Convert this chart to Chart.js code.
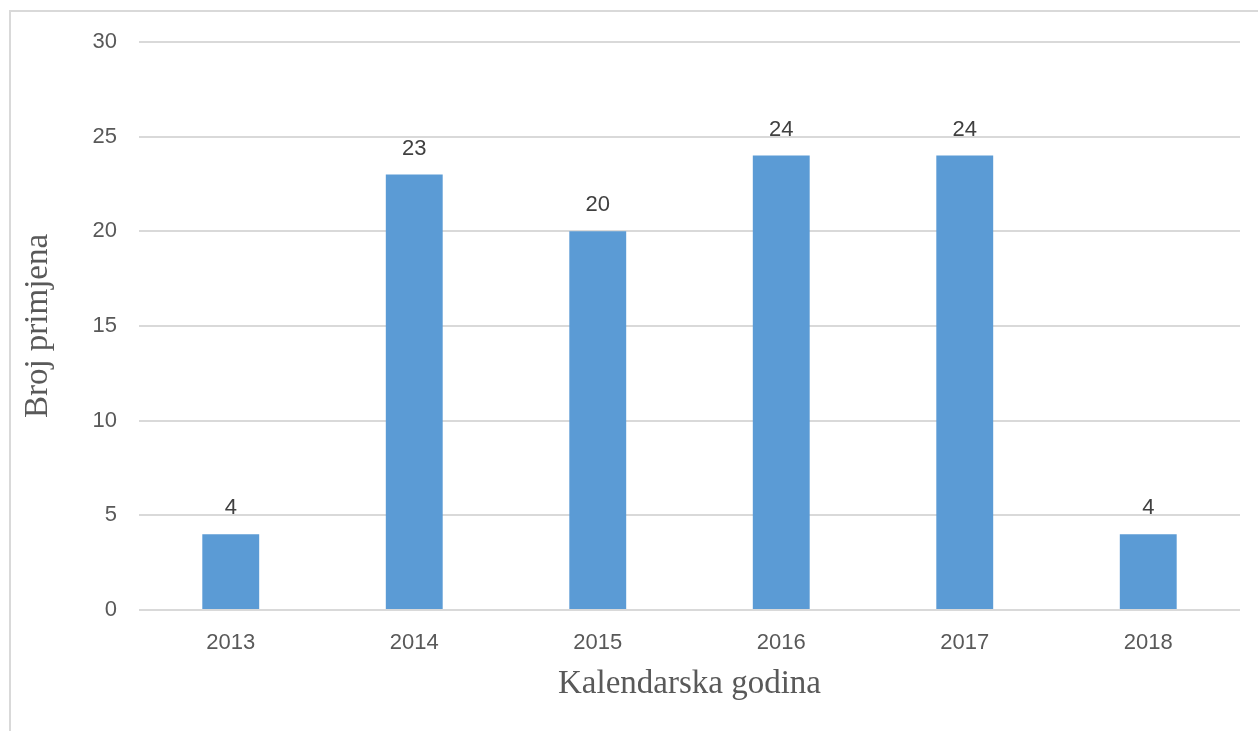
<!DOCTYPE html>
<html>
<head>
<meta charset="utf-8">
<script src="https://cdn.jsdelivr.net/npm/chart.js@4/dist/chart.umd.min.js"></script>
<style>
  html, body { margin: 0; padding: 0; background: #ffffff; width: 1258px; height: 731px; overflow: hidden; }
  #frame { position: absolute; left: 9px; top: 10px; width: 1300px; height: 800px; border: 2px solid #d9d9d9; box-sizing: border-box; }
  #wrap { position: absolute; left: 0; top: 0; width: 1258px; height: 731px; }
</style>
</head>
<body>
<div id="frame"></div>
<div id="wrap"><canvas id="c" width="1258" height="731"></canvas></div>
<script>
const categories = ['2013', '2014', '2015', '2016', '2017', '2018'];
const values = [4, 23, 20, 24, 24, 4];
const yTicks = [0, 5, 10, 15, 20, 25, 30];
const xTitle = 'Kalendarska godina';
const yTitle = 'Broj primjena';

const dataLabels = {
  id: 'dataLabels',
  afterDatasetsDraw(chart) {
    const ctx = chart.ctx;
    const meta = chart.getDatasetMeta(0);
    ctx.save();
    ctx.font = '22px "Liberation Sans", Arial, sans-serif';
    ctx.fillStyle = '#404040';
    ctx.textAlign = 'center';
    ctx.textBaseline = 'middle';
    meta.data.forEach((bar, i) => {
      ctx.fillText(String(values[i]), bar.x, bar.y - 26);
    });
    ctx.restore();
  }
};

new Chart(document.getElementById('c'), {
  type: 'bar',
  data: {
    labels: categories,
    datasets: [{
      data: values,
      backgroundColor: '#5B9BD5',
      borderWidth: 0,
      categoryPercentage: 1,
      barPercentage: 0.31
    }]
  },
  options: {
    responsive: false,
    animation: false,
    devicePixelRatio: 1,
    layout: { padding: { left: 0, right: 18, top: 42, bottom: 0 } },
    plugins: { legend: { display: false }, tooltip: { enabled: false } },
    scales: {
      x: {
        grid: { display: false, drawTicks: false },
        border: { display: false },
        ticks: { color: '#595959', font: { family: '"Liberation Sans", Arial, sans-serif', size: 22 }, padding: 20, maxRotation: 0 },
        title: { display: true, text: xTitle, color: '#595959', font: { family: '"Liberation Serif", "Times New Roman", serif', size: 33 }, padding: { top: 0, bottom: 27 } },
        afterFit(scale) { scale.height = 121; }
      },
      y: {
        min: 0, max: 30,
        afterBuildTicks(scale) { scale.ticks = yTicks.map(v => ({ value: v })); },
        grid: { color: '#d9d9d9', lineWidth: 2, drawTicks: false },
        border: { display: false },
        ticks: { color: '#595959', font: { family: '"Liberation Sans", Arial, sans-serif', size: 22 }, padding: 22 },
        title: { display: true, text: yTitle, color: '#595959', font: { family: '"Liberation Serif", "Times New Roman", serif', size: 33 }, padding: { top: 19, bottom: 0 } },
        afterFit(scale) { scale.width = 139; }
      }
    }
  },
  plugins: [dataLabels]
});
</script>
</body>
</html>
